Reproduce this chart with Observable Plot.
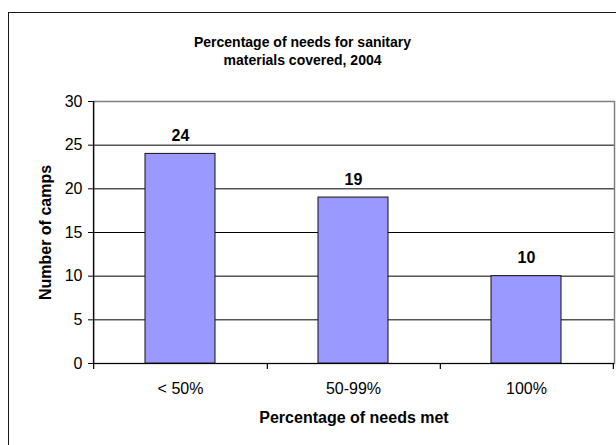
<!DOCTYPE html>
<html>
<head>
<meta charset="utf-8">
<script src="https://cdn.jsdelivr.net/npm/d3@7"></script>
<script src="https://cdn.jsdelivr.net/npm/@observablehq/plot@0.6"></script>
<style>
  html, body { margin: 0; padding: 0; background: #fff; overflow: hidden; }
  #wrap { position: relative; width: 616px; height: 445px; overflow: hidden; }
  #box { position: absolute; left: 8px; top: 12px; width: 700px; height: 500px;
         border: 1.5px solid #1a1a1a; box-sizing: border-box; }
  #chart { position: absolute; left: 0; top: 0; }
</style>
</head>
<body>
<div id="wrap"><div id="box"></div><div id="chart"></div></div>
<script>
// ---- data ----
const categories = ["< 50%", "50-99%", "100%"];
const camps = [24, 19, 10];
const yTicks = [0, 5, 10, 15, 20, 25, 30];
const titleText = "Percentage of needs for sanitary\nmaterials covered, 2004";
const xLabel = "Percentage of needs met";
const yLabel = "Number of camps";

const data = categories.map((c, i) => ({cat: c, n: camps[i]}));

// ---- layout ----
const W = 616, H = 445, ML = 93, MR = 2, MT = 101, MB = 82;
const step = (W - ML - MR) / categories.length;
const font = "'Liberation Sans', Arial, sans-serif";

const chart = Plot.plot({
  width: W, height: H,
  marginLeft: ML, marginRight: MR, marginTop: MT, marginBottom: MB,
  style: {fontFamily: font, fontSize: "16px", background: "transparent", color: "#000"},
  x: {type: "band", domain: categories, paddingInner: 0.594, paddingOuter: 0.297,
      tickSize: 0, tickPadding: 19, label: null},
  y: {domain: [0, 30], ticks: yTicks, tickSize: 5, tickPadding: 6, label: null},
  marks: [
    Plot.ruleY(yTicks.filter(t => t > 0 && t < 30), {stroke: "#000", strokeWidth: 1}),
    Plot.frame({stroke: "#808080", strokeWidth: 1.5}),
    Plot.barY(data, {x: "cat", y: "n", fill: "#9999FF", stroke: "#111", strokeWidth: 1}),
    Plot.ruleY([0], {stroke: "#000", strokeWidth: 1.2}),
    // y axis line (extends slightly below zero like the category ticks)
    Plot.ruleX([categories[0]], {x: d => d, dx: -step / 2, y1: -0.7, y2: 30, stroke: "#000", strokeWidth: 1.2}),
    // category boundary ticks
    Plot.ruleX(categories, {x: d => d, dx: step / 2, y1: -0.7, y2: 0, stroke: "#000", strokeWidth: 1.2}),
    // data labels
    Plot.text(data, {x: "cat", y: "n", text: d => String(d.n), dy: -18,
      fontWeight: "bold", fontSize: 16, fill: "#000"}),
    // title
    Plot.text([titleText], {frameAnchor: "top", dx: -51.5, dy: -51.5, lineAnchor: "middle",
      lineHeight: 1.35, fontWeight: "bold", fontSize: 14, fill: "#000"}),
    // x label
    Plot.text([xLabel], {frameAnchor: "bottom", dy: 54, lineAnchor: "middle",
      fontWeight: "bold", fontSize: 16, fill: "#000"}),
    // y label
    Plot.text([yLabel], {frameAnchor: "left", dx: -47.5, rotate: -90, textAnchor: "middle",
      lineAnchor: "middle", fontWeight: "bold", fontSize: 16, fill: "#000"})
  ]
});
document.getElementById("chart").appendChild(chart);
</script>
</body>
</html>
